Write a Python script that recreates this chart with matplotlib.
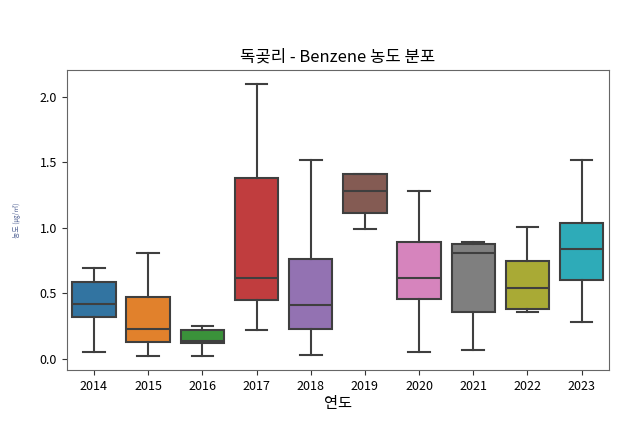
import matplotlib
matplotlib.use("Agg")
import matplotlib.pyplot as plt
import matplotlib.colors as mcolors
import colorsys

# ==============================
# DATOS
# ==============================

years = ["2014", "2015", "2016", "2017", "2018", "2019", "2020", "2021", "2022", "2023"]
whis_low = [0.05, 0.02, 0.02, 0.22, 0.03, 0.99, 0.05, 0.07, 0.36, 0.28]
q1 = [0.32, 0.13, 0.12, 0.45, 0.23, 1.11, 0.46, 0.36, 0.38, 0.60]
median = [0.42, 0.23, 0.14, 0.62, 0.41, 1.28, 0.62, 0.81, 0.54, 0.84]
q3 = [0.59, 0.47, 0.22, 1.38, 0.76, 1.41, 0.89, 0.88, 0.75, 1.04]
whis_high = [0.69, 0.81, 0.25, 2.10, 1.52, 1.41, 1.28, 0.89, 1.01, 1.52]

plt.rcParams["font.family"] = ["Noto Sans CJK KR", "DejaVu Sans"]


def desaturate(color, prop=0.75):
    r, g, b = mcolors.to_rgb(color)
    h, l, s = colorsys.rgb_to_hls(r, g, b)
    return colorsys.hls_to_rgb(h, l, s * prop)


palette = [desaturate(c) for c in plt.get_cmap("tab10").colors]

stats = []
for i, y in enumerate(years):
    stats.append({
        "label": y,
        "whislo": whis_low[i],
        "q1": q1[i],
        "med": median[i],
        "q3": q3[i],
        "whishi": whis_high[i],
        "fliers": [],
    })

fig = plt.figure(figsize=(6.25, 4.43), dpi=100)
ax = fig.add_axes([0.107, 0.165, 0.867, 0.677])

edge = "#3f3f3f"
bp = ax.bxp(
    stats,
    positions=range(len(years)),
    widths=0.8,
    patch_artist=True,
    showfliers=False,
    boxprops=dict(edgecolor=edge, linewidth=1.5),
    medianprops=dict(color=edge, linewidth=1.5),
    whiskerprops=dict(color=edge, linewidth=1.5),
    capprops=dict(color=edge, linewidth=1.5),
)
for patch, col in zip(bp["boxes"], palette):
    patch.set_facecolor(col)

ax.set_xlim(-0.5, len(years) - 0.5)
ax.set_xticks(range(len(years)))
ax.set_xticklabels(years)
ax.set_yticks([0.0, 0.5, 1.0, 1.5, 2.0])
ax.tick_params(labelsize=9, color="#333333")
for s in ax.spines.values():
    s.set_color("#666666")

ax.set_title("독곶리 - Benzene 농도 분포", fontsize=12)
ax.set_xlabel("연도", fontsize=11, labelpad=2)
ax.set_ylabel("농도 (㎍/㎥)", fontsize=5, color="#5a6a9a", labelpad=14)

fig.savefig("out.png", dpi=100)
